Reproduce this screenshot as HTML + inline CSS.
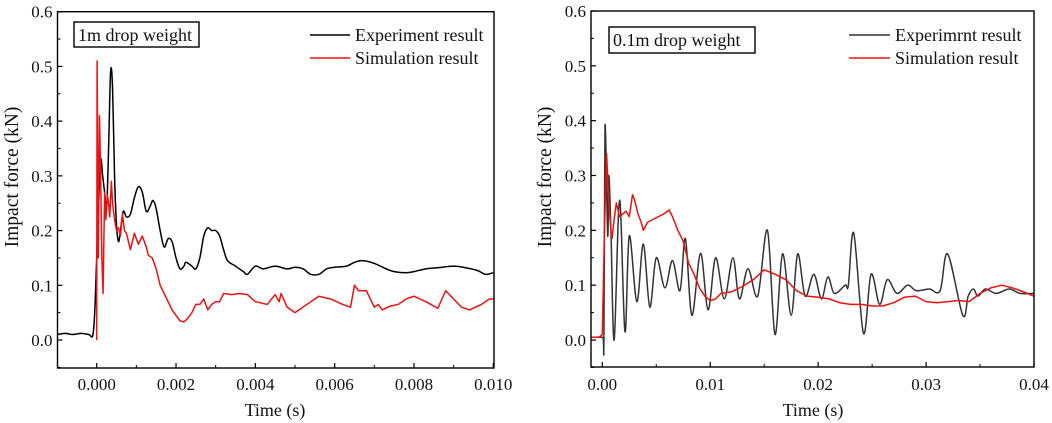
<!DOCTYPE html>
<html><head><meta charset="utf-8">
<style>
html,body{margin:0;padding:0;background:#fff;}
svg{display:block;font-family:"Liberation Serif",serif;}
</style></head>
<body>
<svg id="chart" width="1052" height="423" viewBox="0 0 1052 423"></svg>
<script>
// ---- Left panel data (1m drop weight) ----
const leftExpT=[-0.001,-0.0008,-0.0006,-0.0004,-0.0002,-0.0001,-0.00005,0,0.00005,0.0001,0.00015,0.0002,0.00025,0.0003,0.00035,0.0004,0.00045,0.0005,0.00055,0.0006,0.00067,0.00075,0.00085,0.00095,0.00105,0.00115,0.00125,0.00135,0.00142,0.0015,0.0016,0.0017,0.0018,0.0019,0.002,0.0021,0.0022,0.00225,0.0024,0.0025,0.0026,0.0027,0.0028,0.0029,0.003,0.0031,0.0032,0.0033,0.0035,0.0037,0.0038,0.004,0.0042,0.0045,0.0048,0.005,0.0052,0.0054,0.0056,0.0058,0.006,0.0063,0.0065,0.0067,0.007,0.0073,0.0075,0.0078,0.008,0.0083,0.0086,0.009,0.0093,0.0096,0.0098,0.01];
const leftExpV=[0.010,0.012,0.010,0.012,0.010,0.008,0.05,0.15,0.25,0.33,0.30,0.27,0.24,0.35,0.49,0.46,0.30,0.21,0.18,0.20,0.235,0.225,0.23,0.26,0.28,0.27,0.235,0.245,0.255,0.24,0.20,0.17,0.185,0.18,0.15,0.13,0.135,0.142,0.135,0.13,0.15,0.19,0.205,0.20,0.20,0.19,0.165,0.145,0.135,0.125,0.12,0.135,0.13,0.135,0.13,0.133,0.13,0.12,0.12,0.13,0.133,0.135,0.142,0.145,0.14,0.13,0.125,0.123,0.125,0.13,0.132,0.135,0.132,0.127,0.12,0.123];
const leftSimT=[0,0.00001,0.00004,0.00007,0.0001,0.00013,0.00016,0.0002,0.00023,0.00027,0.0003,0.00033,0.00037,0.0004,0.00045,0.0005,0.00055,0.0006,0.00065,0.0007,0.00075,0.00085,0.00095,0.00105,0.00115,0.00125,0.0013,0.0014,0.0015,0.0016,0.0017,0.0018,0.0019,0.002,0.0021,0.0022,0.0023,0.0024,0.0025,0.0026,0.0027,0.0028,0.0029,0.003,0.0031,0.0032,0.0034,0.0036,0.0038,0.004,0.0043,0.0045,0.0046,0.00465,0.0048,0.005,0.0053,0.0056,0.0059,0.0062,0.0064,0.0065,0.0066,0.0068,0.007,0.0071,0.0072,0.0074,0.0076,0.0078,0.008,0.0083,0.0086,0.0088,0.009,0.0092,0.0094,0.0097,0.0099,0.01];
const leftSimV=[0,0.51,0.15,0.41,0.30,0.15,0.085,0.27,0.22,0.265,0.25,0.225,0.29,0.25,0.22,0.20,0.205,0.19,0.23,0.20,0.195,0.165,0.195,0.175,0.19,0.17,0.155,0.15,0.13,0.10,0.085,0.07,0.055,0.045,0.035,0.033,0.04,0.05,0.065,0.065,0.075,0.055,0.065,0.07,0.07,0.085,0.083,0.085,0.083,0.07,0.065,0.083,0.07,0.085,0.06,0.05,0.065,0.08,0.075,0.065,0.06,0.10,0.09,0.09,0.06,0.065,0.055,0.062,0.065,0.075,0.08,0.07,0.058,0.09,0.075,0.06,0.055,0.065,0.075,0.075];
const leftXTicks=[0,0.002,0.004,0.006,0.008,0.010];
const leftXLabels=["0.000","0.002","0.004","0.006","0.008","0.010"];
// ---- Right panel data (0.1m drop weight) ----
const rightExpT=[-0.001,0,0.00015,0.00025,0.0005,0.0006,0.0008,0.0011,0.0016,0.0021,0.0025,0.0032,0.0038,0.0044,0.005,0.0058,0.0065,0.0072,0.0077,0.0083,0.0091,0.0098,0.0105,0.0113,0.0121,0.0127,0.0135,0.0144,0.0153,0.016,0.0167,0.0175,0.0181,0.0188,0.0196,0.0203,0.0209,0.0215,0.0225,0.0228,0.0233,0.0242,0.0249,0.0257,0.0264,0.0273,0.0283,0.0291,0.0303,0.0313,0.032,0.0334,0.0339,0.0344,0.0348,0.0355,0.0365,0.0377,0.0387,0.04];
const rightExpV=[0.005,0.005,0.0,0.39,0.19,0.30,0.2,0.0,0.255,0.015,0.19,0.07,0.175,0.06,0.15,0.095,0.145,0.09,0.185,0.045,0.158,0.055,0.15,0.075,0.15,0.075,0.13,0.08,0.2,0.01,0.157,0.045,0.157,0.08,0.12,0.075,0.115,0.085,0.1,0.10,0.195,0.012,0.12,0.065,0.11,0.085,0.1,0.09,0.093,0.09,0.157,0.045,0.08,0.093,0.08,0.093,0.085,0.093,0.085,0.085];
const rightSimT=[-0.001,-0.0003,0,0.0002,0.0004,0.0006,0.0008,0.0009,0.0011,0.0013,0.0016,0.0019,0.0022,0.0025,0.0028,0.003,0.0033,0.0036,0.0038,0.0042,0.0047,0.0052,0.0057,0.0062,0.0065,0.007,0.0075,0.008,0.0085,0.009,0.0095,0.01,0.0105,0.011,0.012,0.013,0.014,0.015,0.016,0.017,0.018,0.019,0.02,0.021,0.022,0.023,0.024,0.025,0.026,0.027,0.028,0.029,0.03,0.031,0.032,0.033,0.034,0.035,0.036,0.037,0.038,0.039,0.04];
const rightSimV=[0.005,0.005,0.01,0.2,0.34,0.25,0.2,0.185,0.22,0.25,0.225,0.23,0.235,0.225,0.265,0.255,0.23,0.215,0.2,0.215,0.22,0.225,0.23,0.237,0.225,0.2,0.18,0.14,0.12,0.095,0.08,0.072,0.075,0.085,0.088,0.098,0.11,0.128,0.12,0.11,0.09,0.08,0.078,0.075,0.068,0.065,0.065,0.062,0.062,0.068,0.078,0.08,0.07,0.068,0.07,0.072,0.07,0.085,0.095,0.1,0.095,0.088,0.08];
const rightXTicks=[0,0.01,0.02,0.03,0.04];
const rightXLabels=["0.00","0.01","0.02","0.03","0.04"];
const yTicks=[0,0.1,0.2,0.3,0.4,0.5,0.6];
const yLabels=["0.0","0.1","0.2","0.3","0.4","0.5","0.6"];

const NS="http://www.w3.org/2000/svg";
const svg=document.getElementById('chart');
function mk(tag,attrs,parent){const e=document.createElementNS(NS,tag);for(const k in attrs)e.setAttribute(k,attrs[k]);(parent||svg).appendChild(e);return e;}

function pathD(pts,smooth){
  if(!smooth) return pts.map((p,i)=>(i?'L':'M')+p[0].toFixed(2)+','+p[1].toFixed(2)).join('');
  let d='M'+pts[0][0].toFixed(2)+','+pts[0][1].toFixed(2);
  for(let i=0;i<pts.length-1;i++){
    const p0=pts[Math.max(0,i-1)],p1=pts[i],p2=pts[i+1],p3=pts[Math.min(pts.length-1,i+2)];
    const c1x=p1[0]+(p2[0]-p0[0])/6,c1y=p1[1]+(p2[1]-p0[1])/6;
    const c2x=p2[0]-(p3[0]-p1[0])/6,c2y=p2[1]-(p3[1]-p1[1])/6;
    d+='C'+c1x.toFixed(2)+','+c1y.toFixed(2)+' '+c2x.toFixed(2)+','+c2y.toFixed(2)+' '+p2[0].toFixed(2)+','+p2[1].toFixed(2);
  }
  return d;
}

function panel(cfg){
  const g=mk('g',{});
  
  
  const L=cfg.L,R=cfg.R,T=cfg.T,B=cfg.B;
  const y0=340,yPer=(340-T)/0.6;
  const sy=v=>y0-v*yPer;
  const sx=t=>cfg.x0+t*(cfg.x1-cfg.x0)/cfg.xmaxVal;
  yTicks.forEach((v,i)=>{
    const t=mk('line',{x1:L,x2:L+5,y1:sy(v),y2:sy(v),stroke:'#000','stroke-width':1.2},g);
    
    
    if(i<yTicks.length-1){const m=mk('line',{x1:L,x2:L+3,y1:sy(v+0.05),y2:sy(v+0.05),stroke:'#000','stroke-width':1},g);
      
      }
    const tx=mk('text',{x:L-5,y:sy(v)+6,'text-anchor':'end','font-size':17,fill:'#111'},g);
    tx.textContent=yLabels[i];
    
    
  });
  mk('line',{x1:L,x2:L+3,y1:sy(-0.05),y2:sy(-0.05),stroke:'#000','stroke-width':1},g);
  cfg.xTicks.forEach((v,i)=>{
    const t=mk('line',{x1:sx(v),x2:sx(v),y1:B,y2:B-5,stroke:'#000','stroke-width':1.2},g);
    
    
    if(i<cfg.xTicks.length-1){const mid=(v+cfg.xTicks[i+1])/2;
      const m=mk('line',{x1:sx(mid),x2:sx(mid),y1:B,y2:B-3,stroke:'#000','stroke-width':1},g);
      
      }
    const tx=mk('text',{x:sx(v),y:390,'text-anchor':'middle','font-size':17,fill:'#111'},g);
    tx.textContent=cfg.xLabels[i];
    
    
  });
  function line(T_,V_,color,w,name,smooth){
    const pts=T_.map((t,i)=>[sx(t),sy(V_[i])]);
    const p=mk('path',{d:pathD(pts,smooth),fill:'none',stroke:color,'stroke-width':w,'stroke-linejoin':'round'},g);
    
    
  }
  line(cfg.expT,cfg.expV,cfg.expColor,1.5,'experiment-line',true);
  line(cfg.simT,cfg.simV,'#f01010',1.5,'simulation-line',cfg.smoothSim);
  const fr=mk('rect',{x:L,y:T,width:R-L,height:B-T,fill:'none',stroke:'#000','stroke-width':1.4},g);
  
  
  const bx=mk('rect',{x:cfg.box[0],y:cfg.box[1],width:cfg.box[2],height:cfg.box[3],fill:'#fff',stroke:'#000','stroke-width':1.4},g);
  
  
  const bt=mk('text',{x:cfg.box[0]+4,y:cfg.box[1]+19,'font-size':18,fill:'#111'},g);
  bt.textContent=cfg.boxText;
  
  
  const lg=mk('g',{},g);
  
  
  [[cfg.expColor,cfg.expLabel,35,'legend-entry-experiment'],['#f01010','Simulation result',58,'legend-entry-simulation']].forEach(e=>{
    const eg=mk('g',{},lg);
    
    
    mk('line',{x1:cfg.leg[0],x2:cfg.leg[1],y1:e[2],y2:e[2],stroke:e[0],'stroke-width':1.6},eg);
    const t=mk('text',{x:cfg.leg[2],y:e[2]+6,'font-size':18,fill:'#111'},eg);
    t.textContent=e[1];
  });
  const xt=mk('text',{x:cfg.xTitleX,y:416,'text-anchor':'middle','font-size':18,fill:'#111'},g);
  xt.textContent='Time (s)';
  
  
  const yt=mk('text',{x:0,y:0,'text-anchor':'middle','font-size':19.5,fill:'#111',transform:`translate(${cfg.yTitleX},177) rotate(-90)`},g);
  yt.textContent='Impact force (kN)';
  
  
}

panel({name:'left-chart-1m',L:57.5,R:494,T:11.7,B:368,x0:96.7,x1:493.3,xmaxVal:0.010,
  xTicks:leftXTicks,xLabels:leftXLabels,expT:leftExpT,expV:leftExpV,simT:leftSimT,simV:leftSimV,expColor:'#000',smoothSim:false,
  box:[74,22,125,25],boxText:'1m drop weight',leg:[310,350,355],expLabel:'Experiment result',xTitleX:275,yTitleX:18});
panel({name:'right-chart-0.1m',L:591,R:1034,T:11,B:367,x0:602.3,x1:1034,xmaxVal:0.04,
  xTicks:rightXTicks,xLabels:rightXLabels,expT:rightExpT,expV:rightExpV,simT:rightSimT,simV:rightSimV,expColor:'#333',smoothSim:false,
  box:[609,27,146,26],boxText:'0.1m drop weight',leg:[849,890,895],expLabel:'Experimrnt result',xTitleX:813,yTitleX:551});
</script>
</body></html>
